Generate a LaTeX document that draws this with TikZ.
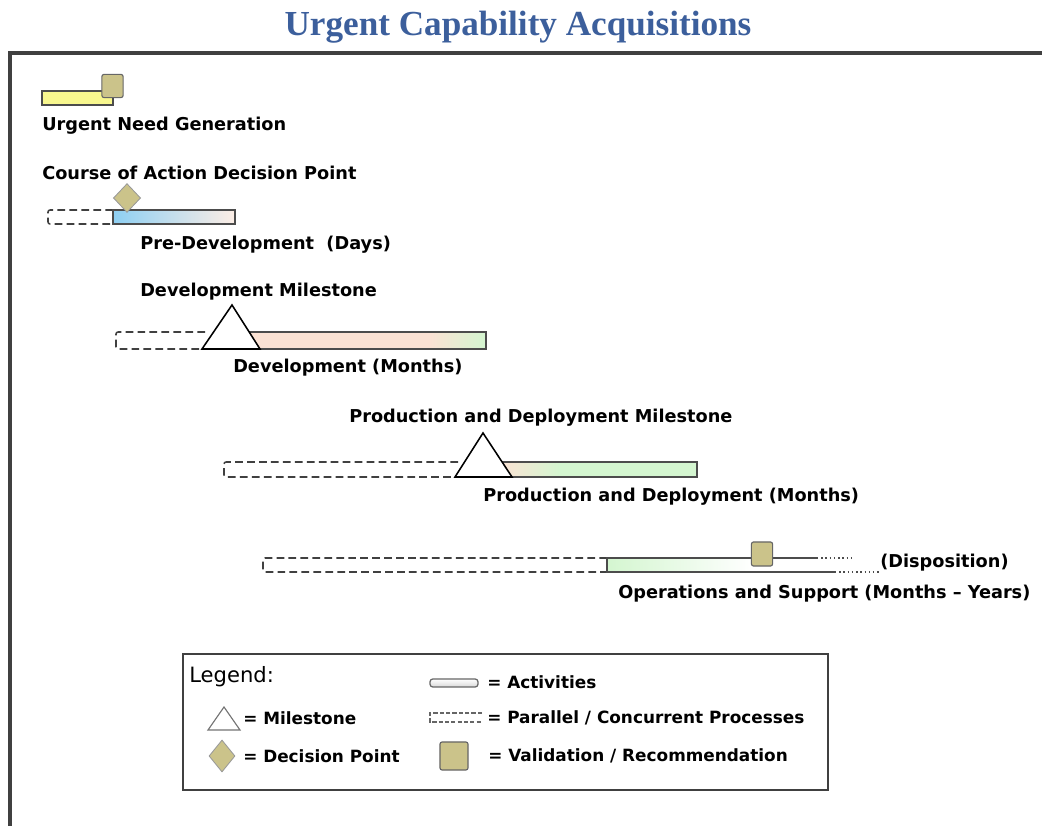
\documentclass[tikz,border=0pt]{standalone}
\usepackage{fontspec}
\setmainfont{DejaVu Sans}
\newfontfamily\titlefont{Liberation Serif}
\usetikzlibrary{positioning,calc,shapes.geometric}
\definecolor{titleblue}{HTML}{3C5F9C}
\definecolor{khaki}{HTML}{CBC38A}
\definecolor{lemon}{HTML}{F8F78E}
\definecolor{skyblue}{HTML}{8ECFF2}
\definecolor{peach}{HTML}{FBE2D4}
\definecolor{mint}{HTML}{D4F6D0}
\newcommand*{\lbl}{\fontsize{12.6}{15}\selectfont\bfseries}
\newcommand*{\legtxt}{\fontsize{12}{14}\selectfont\bfseries}

\begin{document}
\begin{tikzpicture}[x=0.025cm,y=-0.025cm,
  lab/.style={anchor=west,inner sep=0pt,font=\lbl},
  leg/.style={anchor=west,inner sep=0pt,font=\legtxt},
  bar/.style={draw=black!70,line width=1.1pt},
  conc/.style={draw=black!75,line width=1.1pt,dash pattern=on 5.5pt off 3pt,
    rounded corners=1.5pt},
  valsq/.style={draw=black!60,fill=khaki,line width=0.8pt,rounded corners=1.5pt,
    inner sep=0pt,minimum width=0.53cm,minimum height=0.58cm},
  decpt/.style={diamond,draw=black!40,fill=khaki,line width=0.6pt,inner sep=0pt,
    minimum width=0.68cm,minimum height=0.72cm},
  mstone/.style={draw=black,line width=1.1pt,fill=white,line join=miter}]
\useasboundingbox (0,0) rectangle (1042,826);
% Title and open frame
\node [font=\titlefont\bfseries\fontsize{25}{29}\selectfont,text=titleblue]
  (title) at (518,27) {Urgent Capability Acquisitions};
\draw [line width=2.2pt,black!75] (10,826) -- (10,53) -- (1042,53);
% Urgent need generation
\draw [bar,fill=lemon] (42,91) rectangle (113,105);
\node [valsq] (unsq) at (112.5,86) {};
\node [lab] (ungen) at (42,126) {Urgent Need Generation};
\node [lab] (coadp) at (42,173) {Course of Action Decision Point};
% Pre-development
\draw [conc] (113,210) -- (48,210) -- (48,224) -- (113,224);
\draw [bar,left color=skyblue,middle color=skyblue!50,right color=peach!60]
  (113,210) rectangle (235,224);
\node [decpt] (dp) at (127,198) {};
\node [lab] (predev) at (140,245) {Pre-Development\ \ (Days)};
% Development
\node [lab] (devms) at (140,292) {Development Milestone};
\draw [conc] (205,332) -- (116,332) -- (116,349) -- (205,349);
\fill [peach] (240,332) rectangle (430,349);
\shade [left color=peach,right color=mint] (430,332) rectangle (486,349);
\draw [bar] (240,332) rectangle (486,349);
\draw [mstone] (232,305) -- (260,349) -- (202,349) -- cycle;
\node [lab] (dev) at (233,368) {Development (Months)};
% Production and deployment
\node [lab] (pdms) at (349,418) {Production and Deployment Milestone};
\draw [conc] (458,462) -- (224,462) -- (224,477) -- (458,477);
\shade [left color=peach,right color=mint] (500,462) rectangle (560,477);
\fill [mint] (560,462) rectangle (697,477);
\draw [bar] (500,462) rectangle (697,477);
\draw [mstone] (483,433) -- (512,477) -- (455,477) -- cycle;
\node [lab] (pd) at (483,497) {Production and Deployment (Months)};
% Operations and support
\coordinate (os1) at (607,558);
\coordinate (os2) at (607,572);
\draw [conc] (os1) -- (263,558) -- (263,572) -- (os2);
\shade [left color=mint,right color=white] (os1) rectangle (753,572);
\draw [bar] (817,558) -- (os1) -- (os2) -- (835,572);
\draw [black!70,line width=1pt,dotted] (817,558) -- (853,558);
\draw [black!70,line width=1pt,dotted] (835,572) -- (880,572);
\node [valsq,minimum height=0.6cm] (ossq) at (762,554) {};
\node [lab] (disp) at (880,563) {(Disposition)};
\node [lab] (os) at (618,594) {Operations and Support (Months -- Years)};
% Legend
\draw [black!75,line width=1.5pt] (183,654) rectangle (828,790);
\node [anchor=west,inner sep=0pt,font=\fontsize{15}{18}\selectfont]
  (legend) at (189,677) {Legend:};
\draw [black!55,line width=0.8pt,fill=white] (224,707) -- (240,730) -- (208,730) -- cycle;
\node [leg] (lms) at (243,718) {= Milestone};
\node [decpt,minimum width=0.65cm,minimum height=0.8cm] (ldp) at (222,756) {};
\node [leg] (ldpt) at (243,756) {= Decision Point};
\draw [black!60,line width=0.9pt,rounded corners=2pt,top color=white,bottom color=black!15]
  (430,679) rectangle (478,687);
\node [leg] (lact) at (487,682) {= Activities};
\draw [black!60,line width=0.9pt,dash pattern=on 3pt off 1.5pt]
  (482,713) -- (430,713) -- (430,722) -- (482,722);
\node [leg] (lconc) at (487,718) {= Parallel / Concurrent Processes};
\node [valsq,minimum width=0.7cm,minimum height=0.7cm] (lsq) at (454,756) {};
\node [leg] (lval) at (488,756) {= Validation / Recommendation};
\end{tikzpicture}
\end{document}
